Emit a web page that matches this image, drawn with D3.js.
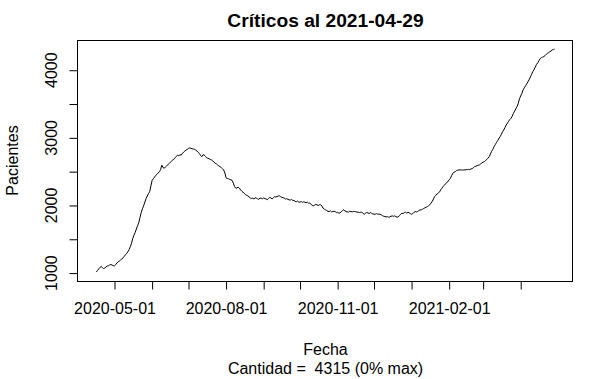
<!DOCTYPE html>
<html>
<head>
<meta charset="utf-8">
<script src="https://cdn.jsdelivr.net/npm/d3@7"></script>
<style>
  body { margin: 0; background: #fff; }
  svg { display: block; font-family: "Liberation Sans", Arial, sans-serif; }
  text { white-space: pre; }
</style>
</head>
<body>
<svg id="chart"></svg>
<script>
// daily critical patients, starting 2020-04-16
var startDate = '2020-04-16';

var criticos = [
  1015, 1040, 1062, 1085, 1097, 1080, 1068, 1075, 1092, 1105,
  1108, 1120, 1127, 1118, 1110, 1108, 1125, 1150, 1167, 1178,
  1195, 1207, 1225, 1248, 1270, 1290, 1315, 1345, 1390, 1440,
  1510, 1560, 1600, 1650, 1700, 1745, 1820, 1895, 1950, 1995,
  2050, 2100, 2140, 2175, 2205, 2290, 2370, 2395, 2420, 2445,
  2460, 2480, 2500, 2530, 2595, 2560, 2550, 2570, 2585, 2600,
  2620, 2640, 2655, 2670, 2690, 2705, 2725, 2745, 2735, 2750,
  2745, 2770, 2790, 2805, 2820, 2830, 2845, 2850, 2846, 2840,
  2835, 2830, 2820, 2805, 2785, 2770, 2740, 2722, 2750, 2745,
  2725, 2705, 2698, 2690, 2680, 2674, 2660, 2640, 2625, 2615,
  2600, 2585, 2575, 2560, 2545, 2526, 2480, 2410, 2400, 2395,
  2385, 2378, 2370, 2330, 2280, 2255, 2260, 2270, 2255, 2230,
  2210, 2195, 2182, 2160, 2150, 2142, 2125, 2110, 2105, 2108,
  2095, 2115, 2108, 2100, 2090, 2110, 2108, 2095, 2115, 2100,
  2097, 2085, 2105, 2120, 2110, 2097, 2115, 2130, 2125, 2131,
  2140, 2142, 2130, 2120, 2115, 2108, 2095, 2100, 2090, 2083,
  2080, 2090, 2075, 2073, 2060, 2055, 2065, 2049, 2049, 2060,
  2045, 2055, 2049, 2040, 2050, 2034, 2034, 2020, 2000, 1994,
  2005, 2015, 2009, 2000, 2010, 2009, 1995, 1960, 1945, 1935,
  1925, 1915, 1910, 1920, 1905, 1910, 1915, 1910, 1895, 1900,
  1886, 1890, 1905, 1925, 1935, 1920, 1910, 1905, 1901, 1915,
  1910, 1905, 1912, 1910, 1908, 1900, 1902, 1895, 1899, 1901,
  1880, 1871, 1885, 1895, 1890, 1880, 1895, 1885, 1875, 1871,
  1871, 1880, 1870, 1873, 1871, 1860, 1850, 1840, 1836, 1830,
  1835, 1827, 1830, 1840, 1846, 1840, 1846, 1835, 1827, 1830,
  1850, 1870, 1886, 1880, 1895, 1901, 1885, 1901, 1890, 1880,
  1871, 1880, 1900, 1910, 1905, 1910, 1925, 1935, 1935, 1945,
  1955, 1965, 1975, 1984, 1995, 2010, 2034, 2060, 2095, 2131,
  2150, 2170, 2182, 2200, 2230, 2255, 2280, 2300, 2320, 2340,
  2353, 2380, 2400, 2440, 2477, 2490, 2501, 2515, 2520, 2526,
  2526, 2526, 2524, 2526, 2526, 2528, 2530, 2535, 2530, 2540,
  2545, 2560, 2575, 2580, 2590, 2595, 2600, 2615, 2630, 2640,
  2649, 2665, 2680, 2700, 2722, 2760, 2800, 2830, 2870, 2900,
  2930, 2960, 2990, 3018, 3050, 3090, 3117, 3150, 3190, 3216,
  3245, 3270, 3289, 3320, 3363, 3395, 3430, 3461, 3510, 3580,
  3620, 3660, 3710, 3740, 3770, 3800, 3830, 3865, 3900, 3940,
  3980, 4010, 4045, 4085, 4110, 4140, 4170, 4185, 4195, 4200,
  4215, 4235, 4250, 4260, 4274, 4285, 4300, 4305, 4315
];

var xTicks = ['2020-05-01', '2020-06-01', '2020-07-01', '2020-08-01', '2020-09-01', '2020-10-01',
  '2020-11-01', '2020-12-01', '2021-01-01', '2021-02-01', '2021-03-01', '2021-04-01'];
var xLabels = ['2020-05-01', '2020-08-01', '2020-11-01', '2021-02-01'];
var yTicks = [1000, 1500, 2000, 2500, 3000, 3500, 4000];
var yLabels = [1000, 2000, 3000, 4000];

var width = 614,
  height = 379;

var margin = { left: 78, right: 41, top: 40, bottom: 98 };

var parse = d3.utcParse('%Y-%m-%d');
var fmt = d3.utcFormat('%Y-%m-%d');

var start = parse(startDate);
var data = criticos.map(function(v, i) {
  return { fecha: d3.utcDay.offset(start, i), valor: v };
});

var svg = d3.select('#chart')
  .attr('width', width)
  .attr('height', height);

// R style: 4% padding on each side of the data range
function rDomain(ext) {
  var pad = (ext[1] - ext[0]) * 0.04;
  return [ext[0] - pad, ext[1] + pad];
}

var xExt = d3.extent(data, function(d) { return +d.fecha; });
var x = d3.scaleUtc()
  .domain(rDomain(xExt).map(function(t) { return new Date(t); }))
  .range([margin.left, width - margin.right]);

var y = d3.scaleLinear()
  .domain(rDomain(d3.extent(criticos)))
  .range([height - margin.bottom, margin.top]);

var line = d3.line()
  .x(function(d) { return x(d.fecha); })
  .y(function(d) { return y(d.valor); });

svg.append('path')
  .datum(data)
  .attr('fill', 'none')
  .attr('stroke', '#000')
  .attr('stroke-width', 1)
  .attr('d', line);

// box
svg.append('rect')
  .attr('x', margin.left - 0.5)
  .attr('y', margin.top + 0.5)
  .attr('width', width - margin.left - margin.right)
  .attr('height', height - margin.top - margin.bottom)
  .attr('fill', 'none')
  .attr('stroke', '#000');

var xAxis = svg.append('g')
  .attr('transform', 'translate(0,' + (height - margin.bottom + 0.5) + ')')
  .call(d3.axisBottom(x)
    .tickValues(xTicks.map(parse))
    .tickSize(8)
    .tickPadding(13)
    .tickFormat(function(d) {
      var s = fmt(d);
      return xLabels.indexOf(s) >= 0 ? s : '';
    }));

xAxis.select('.domain').remove();
xAxis.selectAll('text')
  .attr('font-size', 16)
  .attr('font-family', '"Liberation Sans", Arial, sans-serif')
  .attr('fill', '#000');

var yAxis = svg.append('g')
  .attr('transform', 'translate(' + (margin.left - 0.5) + ',0)')
  .call(d3.axisLeft(y)
    .tickValues(yTicks)
    .tickSize(8)
    .tickFormat(''));

yAxis.select('.domain').remove();

yAxis.selectAll('.lbl')
  .data(yLabels)
  .enter().append('text')
  .attr('class', 'lbl')
  .attr('transform', function(d) { return 'translate(' + (57 - margin.left) + ',' + y(d) + ') rotate(-90)'; })
  .attr('text-anchor', 'middle')
  .attr('font-size', 16)
  .attr('fill', '#000')
  .text(function(d) { return d; });

var cx = margin.left + (width - margin.left - margin.right) / 2;

svg.append('text')
  .attr('x', cx)
  .attr('y', 27)
  .attr('text-anchor', 'middle')
  .attr('font-size', 19.2)
  .attr('font-weight', 'bold')
  .text('Críticos al ' + fmt(data[data.length - 1].fecha));

svg.append('text')
  .attr('transform', 'translate(18,' + (margin.top + (height - margin.top - margin.bottom) / 2) + ') rotate(-90)')
  .attr('text-anchor', 'middle')
  .attr('font-size', 16)
  .text('Pacientes');

svg.append('text')
  .attr('x', cx)
  .attr('y', 355)
  .attr('text-anchor', 'middle')
  .attr('font-size', 16)
  .text('Fecha');

svg.append('text')
  .attr('x', cx)
  .attr('y', 373.5)
  .attr('text-anchor', 'middle')
  .attr('font-size', 16)
  .text('Cantidad =  ' + criticos[criticos.length - 1] + ' (0% max)');
</script>
</body>
</html>
